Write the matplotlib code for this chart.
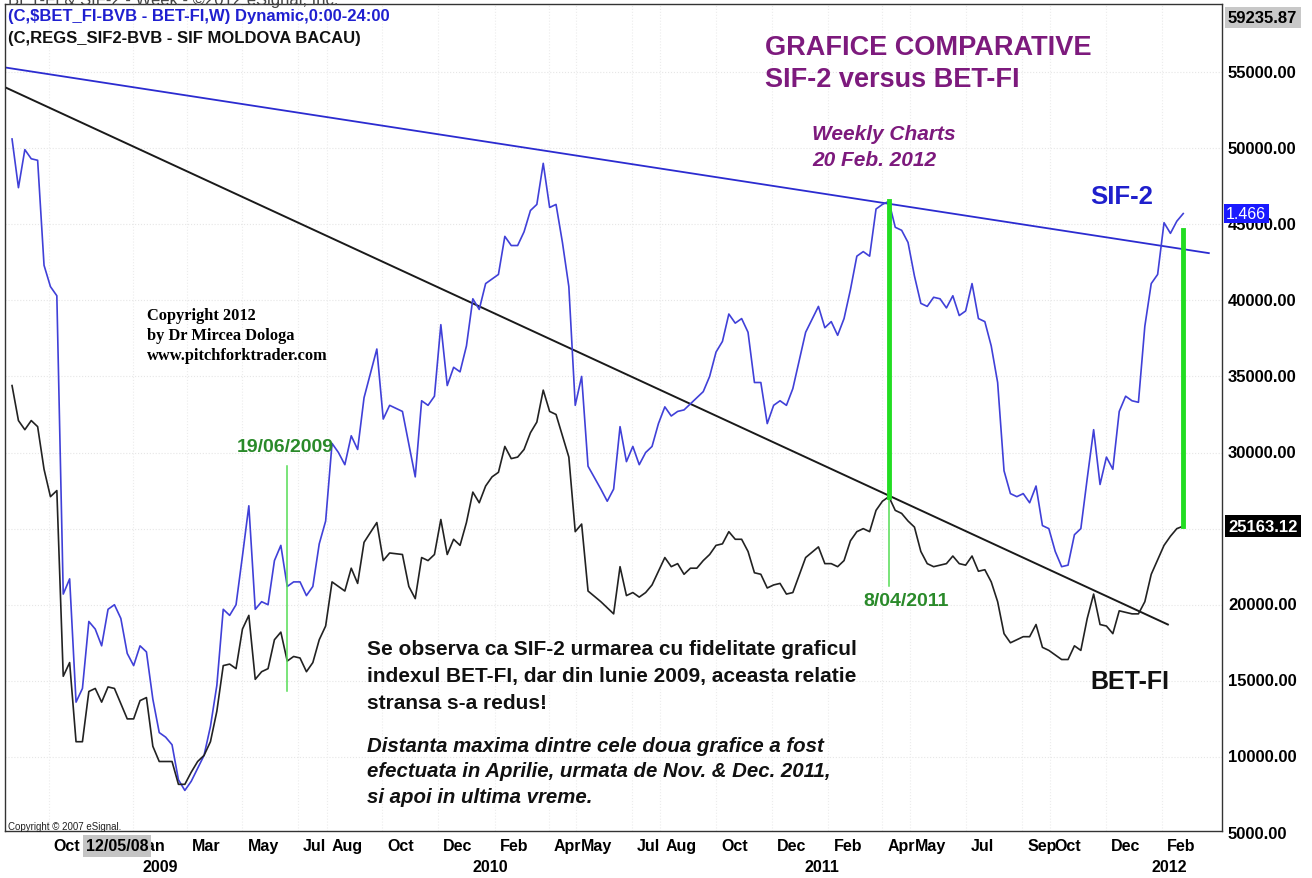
import matplotlib
matplotlib.use('Agg')
from matplotlib import pyplot as plt
import numpy as np
import pandas as pd

# weekly bars, week 0 = first bar on the chart
start = pd.Timestamp('2008-08-22')

sif2_weeks = list(range(0, 29)) + list(range(30, 56)) + [57, 58, 59, 60, 61] + \
    list(range(63, 91)) + list(range(92, 107)) + list(range(108, 123)) + [124] + \
    list(range(126, 184))
sif2_vals = [
    50600, 47400, 49900, 49300, 49200, 42300, 40900, 40300, 20700, 21700,
    13600, 14500, 18900, 18400, 17300, 19700, 20000, 19100, 16800, 16000,
    17300, 16900, 13800, 11600, 11300, 10800, 8500, 7800, 8400,
    10100, 12000, 14700, 19700, 19300, 20000, 23200, 26500, 19700, 20200,
    20000, 22900, 23900, 21200, 21500, 21500, 20600, 21200, 24000, 25500,
    30600, 30000, 29200, 31100, 30200, 33600,
    36800, 32200, 33100, 32900, 32700,
    28400, 33400, 33100, 33700, 38400, 34400, 35600, 35300, 37000, 40100,
    39400, 41100, 41400, 41700, 44200, 43600, 43600, 44500, 45900, 46300,
    49000, 46100, 46300, 43800, 40900, 33100, 35000, 29100,
    27600, 26800, 27600, 31700, 29400, 30400, 29200, 30000, 30400, 31900,
    33000, 32400, 32700, 32800, 33200,
    34000, 35000, 36600, 37300, 39100, 38500, 38800, 37900, 34600, 34600,
    31900, 33100, 33400, 33100, 34200,
    37900,
    39600, 38200, 38600, 37700, 38800, 40700, 42900, 43200, 42900, 46000,
    46300, 46500, 44800, 44600, 43800, 41600, 39800, 39600, 40200, 40100,
    39500, 40300, 39000, 39300, 41100, 38800, 38600, 37000, 34600, 28800,
    27300, 27100, 27300, 26700, 27800, 25200, 25000, 23500, 22500, 22600,
    24600, 25000, 28300, 31500, 27900, 29700, 28900, 32700, 33700, 33400,
    33300, 38300, 41100, 41700, 45100, 44400, 45200, 45700,
]

betfi_weeks = list(range(0, 56)) + [57, 58, 59, 61, 62, 63] + list(range(64, 91)) + \
    list(range(92, 123)) + [124] + list(range(126, 145)) + list(range(146, 179)) + \
    [180, 181, 182, 183]
betfi_vals = [
    34400, 32100, 31500, 32100, 31700, 28900, 27100, 27500, 15300, 16200,
    11000, 11000, 14300, 14500, 13600, 14600, 14500, 13500, 12500, 12500,
    13700, 13900, 10700, 9700, 9700, 9700, 8200, 8200, 9000,
    9700, 10100, 11000, 13000, 16000, 16100, 15800, 18400, 19300, 15100,
    15600, 15800, 17700, 18200, 16300, 16600, 16500, 15600, 16200, 17700,
    18600, 21500, 21200, 20900, 22400, 21400, 24100,
    25400, 22900, 23400, 23300, 21200, 20400,
    23100, 22900, 23300, 25600, 23300, 24300, 23900, 25400, 27400, 26700,
    27800, 28400, 28700, 30400, 29600, 29700, 30200, 31300, 32000, 34100,
    32700, 32500, 31100, 29700, 24800, 25300, 20900,
    20200, 19800, 19400, 22500, 20600, 20800, 20500, 20800, 21300, 22200,
    23100, 22500, 22700, 22000, 22400, 22400, 22900, 23300, 23900, 24000,
    24800, 24300, 24300, 23500, 22100, 22000, 21100, 21300, 21400, 20700,
    20800,
    23100,
    23800, 22700, 22700, 22500, 22900, 24200, 24800, 25000, 24800, 26200,
    26800, 27100, 26200, 26000, 25500, 25100, 23500, 22700, 22500,
    22700, 23200, 22700, 22600, 23200, 22200, 22300, 21500, 20200, 18100,
    17500, 17700, 17900, 17900, 18700, 17200, 17000, 16700, 16400, 16400,
    17300, 17000, 19100, 20700, 18700, 18600, 18100, 19600, 19500, 19400,
    19400, 20200, 22000,
    23900, 24500, 25000, 25163.12,
]

# trend lines drawn by the author: (week, value) anchors
sif2_trend_weeks = [-1.1, 187]
sif2_trend_vals = [55300, 43100]
betfi_trend_weeks = [-1.1, 180.6]
betfi_trend_vals = [54000, 18700]

# green marker lines: week, top, bottom
green_thin = [(43, 29100, 14300), (137, 27100, 21200)]
green_thick = [(137, 46500, 27100), (183, 44600, 25163.12)]

month_starts = ['2008-10-01', '2009-01-01', '2009-03-01', '2009-05-01', '2009-07-01',
                '2009-08-01', '2009-10-01', '2009-12-01', '2010-02-01', '2010-04-01',
                '2010-05-01', '2010-07-01', '2010-08-01', '2010-10-01', '2010-12-01',
                '2011-02-01', '2011-04-01', '2011-05-01', '2011-07-01', '2011-09-01',
                '2011-10-01', '2011-12-01', '2012-02-01']
month_names = ['Oct', 'Jan', 'Mar', 'May', 'Jul', 'Aug', 'Oct', 'Dec', 'Feb', 'Apr',
               'May', 'Jul', 'Aug', 'Oct', 'Dec', 'Feb', 'Apr', 'May', 'Jul', 'Sep',
               'Oct', 'Dec', 'Feb']
year_pos = ['2009-01-31', '2010-01-27', '2011-01-25', '2012-02-09']
year_names = ['2009', '2010', '2011', '2012']
price_levels = [5000, 10000, 15000, 20000, 25000, 30000, 35000, 40000, 45000, 50000, 55000]


def wk(weeks):
    return start + pd.to_timedelta(np.asarray(weeks, dtype=float) * 7, unit='D')


W, H = 1312, 879
fig = plt.figure(figsize=(W / 100, H / 100), dpi=100)
ax = fig.add_axes([5 / W, 1 - 832 / H, 1217 / W, 827 / H])
ax.set_xlim(start - pd.Timedelta(days=7.7), start + pd.Timedelta(days=1323.4))
ax.set_ylim(5134, 59468)
ax.set_xticks([])
ax.set_yticks([])
for s in ax.spines.values():
    s.set_color('#333333')
    s.set_linewidth(1.0)

for v in price_levels:
    ax.axhline(v, color='#e6e6e6', lw=0.8, ls=':', zorder=0)
for d in month_starts:
    ax.axvline(pd.Timestamp(d), color='#ececec', lw=0.8, ls=':', zorder=0)

ax.plot(wk(sif2_trend_weeks), sif2_trend_vals, color='#2b2bd0', lw=1.3)
ax.plot(wk(betfi_trend_weeks), betfi_trend_vals, color='#1a1a1a', lw=1.4)
ax.plot(wk(sif2_weeks), sif2_vals, color='#4040d8', lw=1.2)
ax.plot(wk(betfi_weeks), betfi_vals, color='#222222', lw=1.2)

for w, top, bot in green_thin:
    ax.plot(wk([w, w]), [top, bot], color='#55dd55', lw=1.1)
for w, top, bot in green_thick:
    ax.plot(wk([w, w]), [top, bot], color='#22dd22', lw=3.5)

sans = 'Liberation Sans'
for d, name in zip(month_starts, month_names):
    ax.annotate(name, xy=(pd.Timestamp(d), 0), xycoords=('data', 'axes fraction'),
                xytext=(5, -15), textcoords='offset pixels', ha='left', va='center',
                fontsize=11.5, fontweight='bold', family=sans, annotation_clip=False)
for d, name in zip(year_pos, year_names):
    ax.annotate(name, xy=(pd.Timestamp(d), 0), xycoords=('data', 'axes fraction'),
                xytext=(0, -36), textcoords='offset pixels', ha='center', va='center',
                fontsize=11.5, fontweight='bold', family=sans, annotation_clip=False)
ax.annotate('12/05/08', xy=(pd.Timestamp('2008-12-05'), 0), xycoords=('data', 'axes fraction'),
            xytext=(9, -15), textcoords='offset pixels', ha='center', va='center',
            fontsize=11.5, fontweight='bold', family=sans, annotation_clip=False,
            bbox=dict(boxstyle='square,pad=0.2', fc='#c4c4c4', ec='none'), zorder=5)

for v in price_levels:
    ax.annotate(f'{v:.2f}', xy=(1, v), xycoords=('axes fraction', 'data'),
                xytext=(6, 0), textcoords='offset pixels', ha='left', va='center',
                fontsize=12, fontweight='bold', family=sans, annotation_clip=False)
ax.annotate('59235.87', xy=(1, 59235.87), xycoords=('axes fraction', 'data'),
            xytext=(6, -10), textcoords='offset pixels', ha='left', va='center',
            fontsize=12, fontweight='bold', family=sans, annotation_clip=False,
            bbox=dict(boxstyle='square,pad=0.2', fc='#c8c8c8', ec='none'))
ax.annotate('1.466', xy=(1, sif2_vals[-1]), xycoords=('axes fraction', 'data'),
            xytext=(4, 0), textcoords='offset pixels', ha='left', va='center',
            fontsize=11.5, family=sans, color='white', annotation_clip=False, zorder=6,
            bbox=dict(boxstyle='square,pad=0.15', fc='#1a1aff', ec='none'))
ax.annotate('25163.12', xy=(1, betfi_vals[-1]), xycoords=('axes fraction', 'data'),
            xytext=(6, 0), textcoords='offset pixels', ha='left', va='center',
            fontsize=12, fontweight='bold', family=sans, color='white', annotation_clip=False,
            zorder=6, bbox=dict(boxstyle='square,pad=0.2', fc='black', ec='none'))


def ftext(x, y, s, **kw):
    kw.setdefault('family', sans)
    kw.setdefault('va', 'center')
    kw.setdefault('ha', 'left')
    fig.text(x / W, 1 - y / H, s, **kw)


ftext(8, 0, 'BET-FI & SIF-2 - Week - \u00a92012 eSignal, Inc.', fontsize=12, color='#444444')
ftext(8, 17, '(C,\\$BET_FI-BVB - BET-FI,W) Dynamic,0:00-24:00', fontsize=12,
      fontweight='bold', color='#1f1fd0')
ftext(8, 38, '(C,REGS_SIF2-BVB - SIF MOLDOVA BACAU)', fontsize=12, fontweight='bold',
      color='#111111')

purple = '#7d1a7d'
ftext(765, 48, 'GRAFICE COMPARATIVE', fontsize=19.5, fontweight='bold', color=purple)
ftext(765, 80, 'SIF-2 versus BET-FI', fontsize=19.5, fontweight='bold', color=purple)
ftext(812, 135, 'Weekly Charts', fontsize=15, fontweight='bold', style='italic', color=purple)
ftext(812, 160, '20 Feb. 2012', fontsize=15, fontweight='bold', style='italic', color=purple)

ftext(1090, 197, 'SIF-2', fontsize=18.5, fontweight='bold', color='#1f1fcc')
ftext(1090, 682, 'BET-FI', fontsize=18, fontweight='bold', color='#111111')

serif = 'Liberation Serif'
ftext(147, 316, 'Copyright 2012', fontsize=11.8, fontweight='bold', family=serif)
ftext(147, 336, 'by Dr Mircea Dologa', fontsize=11.8, fontweight='bold', family=serif)
ftext(147, 356, 'www.pitchforktrader.com', fontsize=11.8, fontweight='bold', family=serif)

green = '#2a8a2a'
ftext(237, 448, '19/06/2009', fontsize=14, fontweight='bold', color=green)
ftext(863, 602, '8/04/2011', fontsize=14, fontweight='bold', color=green)

para = ['Se observa ca SIF-2 urmarea cu fidelitate graficul',
        'indexul BET-FI, dar din lunie 2009, aceasta relatie',
        'stransa s-a redus!']
for i, line in enumerate(para):
    ftext(367, 650 + 27 * i, line, fontsize=15, fontweight='bold', color='#111111')
para2 = ['Distanta maxima dintre cele doua grafice a fost',
         'efectuata in Aprilie, urmata de Nov. & Dec. 2011,',
         'si apoi in ultima vreme.']
for i, line in enumerate(para2):
    ftext(367, 746 + 26 * i, line, fontsize=14.7, fontweight='bold', style='italic',
          color='#111111')

ftext(8, 827, 'Copyright \u00a9 2007 eSignal.', fontsize=7, color='#222222')

fig.savefig('out.png', dpi=100)
